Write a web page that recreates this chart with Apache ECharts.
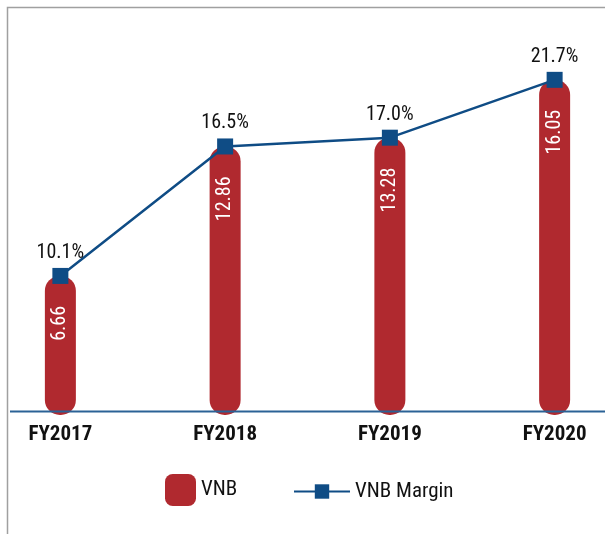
<!DOCTYPE html>
<html>
<head>
<meta charset="utf-8">
<script src="https://cdn.jsdelivr.net/npm/echarts@6/dist/echarts.min.js"></script>
<style>
html, body { margin: 0; padding: 0; background: #fff; }
#chart { width: 605px; height: 534px; }
</style>
</head>
<body>
<div id="chart"></div>
<script>
// VNB 与 VNB Margin
var years = ['FY2017', 'FY2018', 'FY2019', 'FY2020'];
var vnb = [6.66, 12.86, 13.28, 16.05];
var vnbMargin = [10.1, 16.5, 17.0, 21.7];

var font = '"Roboto Condensed", "Roboto", sans-serif';
var red = '#b0292f',
	blue = '#0f4c85';

var chart = echarts.init(document.getElementById('chart'));

chart.setOption({
	animation: false,
	textStyle: { fontFamily: font },
	grid: {
		left: -22,
		right: -32,
		top: 60,
		bottom: 119,
		containLabel: false,
		outerBoundsMode: 'none'
	},
	legend: [{
		data: ['VNB'],
		left: 165,
		top: 474,
		padding: 0,
		icon: 'roundRect',
		itemWidth: 31,
		itemHeight: 32,
		itemGap: 8,
		textStyle: { fontSize: 21, color: '#111', fontFamily: font }
	}, {
		data: ['VNB Margin'],
		left: 293,
		top: 481,
		padding: 0,
		itemWidth: 56,
		itemHeight: 18,
		itemGap: 8,
		textStyle: { fontSize: 21, color: '#111', fontFamily: font }
	}],
	xAxis: {
		type: 'category',
		data: years,
		axisLine: { show: false },
		axisTick: { show: false },
		axisLabel: {
			fontSize: 21,
			fontWeight: 'bold',
			color: '#111',
			fontFamily: font,
			margin: 9
		}
	},
	yAxis: {
		type: 'value',
		min: 0,
		max: 17,
		show: false,
		splitLine: { show: false }
	},
	graphic: [{
		type: 'polyline',
		shape: { points: [[7.5, 534], [7.5, 7.5], [605, 7.5]] },
		style: { stroke: '#a0a0a0', lineWidth: 1.5, fill: null },
		z: 0
	}, {
		type: 'line',
		shape: { x1: 10, y1: 411.5, x2: 605, y2: 411.5 },
		style: { stroke: '#2b6296', lineWidth: 2 },
		z: 5
	}],
	series: [{
		name: 'VNB',
		type: 'bar',
		data: vnb,
		barWidth: 31,
		itemStyle: { color: red, borderRadius: 15 },
		label: {
			show: true,
			position: 'insideTop',
			distance: 30,
			rotate: 90,
			align: 'right',
			verticalAlign: 'middle',
			color: '#fff',
			fontSize: 20,
			fontFamily: font,
			formatter: function (p) { return p.value.toFixed(2); }
		},
		z: 2
	}, {
		name: 'VNB Margin',
		type: 'line',
		// 折线的点落在柱顶，标签显示 margin
		data: vnb,
		symbol: 'rect',
		symbolSize: 16,
		lineStyle: { color: blue, width: 2.5 },
		itemStyle: { color: blue },
		label: {
			show: true,
			position: 'top',
			distance: 5,
			color: '#111',
			fontSize: 20,
			fontFamily: font,
			formatter: function (p) { return vnbMargin[p.dataIndex].toFixed(1) + '%'; }
		},
		z: 10
	}]
});
</script>
</body>
</html>
